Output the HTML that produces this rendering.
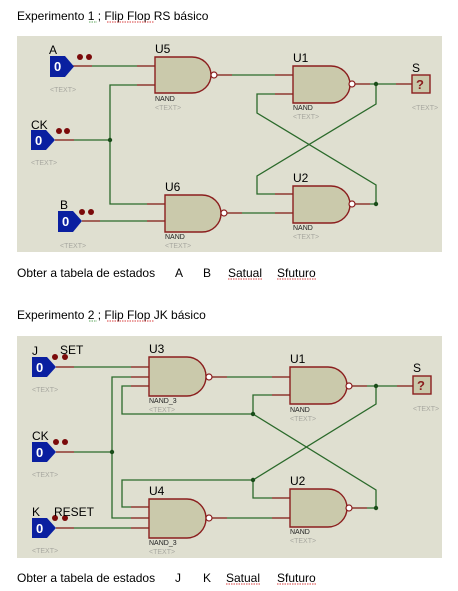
<!DOCTYPE html>
<html><head><meta charset="utf-8"><style>
html,body{margin:0;padding:0;background:#fff;}
svg{display:block;}
text{font-family:"Liberation Sans",Arial,sans-serif;}
.lbl{font-size:12px;fill:#000;}
.sm{font-size:7px;fill:#222;}
.tx{font-size:7px;fill:#a8a8a0;}
.hd{font-size:12px;fill:#000;}
.w{stroke:#2b6a2b;stroke-width:1.3;fill:none;}
.r{stroke:#9a2a2a;stroke-width:1.3;fill:none;}
.g{fill:#cac9ab;stroke:#8b1e1e;stroke-width:1.4;}
.b{fill:#fff;stroke:#8b1e1e;stroke-width:1.2;}
.p{fill:#0a1fa0;}
.z{font-size:13px;font-weight:bold;fill:#fff;}
.d{fill:#7a0a0a;}
.j{fill:#1a4d1a;}
.sp{stroke:#c00;stroke-width:0.8;fill:none;stroke-dasharray:1.5 1;}
.spg{stroke:#2a8a2a;stroke-width:0.8;fill:none;stroke-dasharray:1.5 1;}
</style></head><body>
<svg width="458" height="591" viewBox="0 0 458 591" xmlns="http://www.w3.org/2000/svg">
<!-- headings -->
<text class="hd" x="17" y="20">Experimento 1 ;  Flip Flop RS básico</text>
<line class="spg" x1="89" y1="22" x2="97" y2="22"/>
<line class="sp" x1="107" y1="22" x2="154" y2="22"/>
<text class="hd" x="17" y="277" xml:space="preserve">Obter a tabela de estados</text>
<text class="hd" x="175" y="277">A</text><text class="hd" x="203" y="277">B</text>
<text class="hd" x="228" y="277">Satual</text><text class="hd" x="277" y="277">Sfuturo</text>
<line class="sp" x1="228" y1="279" x2="262" y2="279"/><line class="sp" x1="277" y1="279" x2="316" y2="279"/>
<text class="hd" x="17" y="319">Experimento 2 ;  Flip Flop JK básico</text>
<line class="spg" x1="89" y1="321" x2="97" y2="321"/>
<line class="sp" x1="107" y1="321" x2="154" y2="321"/>
<text class="hd" x="17" y="582">Obter a tabela de estados</text>
<text class="hd" x="175" y="582">J</text><text class="hd" x="203" y="582">K</text>
<text class="hd" x="226" y="582">Satual</text><text class="hd" x="277" y="582">Sfuturo</text>
<line class="sp" x1="226" y1="584" x2="260" y2="584"/><line class="sp" x1="277" y1="584" x2="316" y2="584"/>

<!-- panel 1 -->
<rect x="17" y="36" width="425" height="216" fill="#dfdfd0"/>
<!-- wires -->
<path class="w" d="M73,66 H155"/>
<path class="w" d="M155,85 H110 V204 H165"/>
<path class="w" d="M55,140 H110"/>
<path class="w" d="M82,221 H165"/>
<path class="w" d="M217,75 H293"/>
<path class="w" d="M227,213 H293"/>
<path class="w" d="M355,84 H412"/>
<path class="w" d="M293,94 H257 V113 L376,185 V204"/>
<path class="w" d="M355,204 H376"/>
<path class="w" d="M376,84 V104 L257,176 V194 H293"/>
<!-- red stubs -->
<path class="r" d="M73,66 H92 M137,66 H155 M137,85 H155 M55,140 H74 M82,221 H100 M147,204 H165 M147,221 H165 M217,75 H232 M227,213 H242 M275,75 H293 M275,94 H293 M275,194 H293 M275,213 H293 M355,84 H370 M355,204 H370 M396,84 H412"/>
<circle class="j" cx="110" cy="140" r="2.2"/><circle class="j" cx="376" cy="84" r="2.2"/><circle class="j" cx="376" cy="204" r="2.2"/>
<!-- gates -->
<path class="g" d="M155,57 H192 A19,18 0 0 1 192,93 H155 Z"/><circle class="b" cx="214" cy="75" r="3"/>
<text class="lbl" x="155" y="53">U5</text><text class="sm" x="155" y="101">NAND</text><text class="tx" x="155" y="110">&lt;TEXT&gt;</text>
<path class="g" d="M165,195 H202 A19,18.5 0 0 1 202,232 H165 Z"/><circle class="b" cx="224" cy="213" r="3"/>
<text class="lbl" x="165" y="191">U6</text><text class="sm" x="165" y="239">NAND</text><text class="tx" x="165" y="248">&lt;TEXT&gt;</text>
<path class="g" d="M293,66 H331 A19,18.5 0 0 1 331,103 H293 Z"/><circle class="b" cx="352" cy="84" r="3"/>
<text class="lbl" x="293" y="62">U1</text><text class="sm" x="293" y="110">NAND</text><text class="tx" x="293" y="119">&lt;TEXT&gt;</text>
<path class="g" d="M293,186 H331 A19,18.5 0 0 1 331,223 H293 Z"/><circle class="b" cx="352" cy="204" r="3"/>
<text class="lbl" x="293" y="182">U2</text><text class="sm" x="293" y="230">NAND</text><text class="tx" x="293" y="239">&lt;TEXT&gt;</text>
<!-- inputs -->
<polygon class="p" points="50,56 65,56 74,66.5 65,77 50,77"/><text class="z" x="54" y="71">0</text>
<text class="lbl" x="49" y="54">A</text><circle class="d" cx="80" cy="57" r="3"/><circle class="d" cx="89" cy="57" r="3"/><text class="tx" x="50" y="92">&lt;TEXT&gt;</text>
<polygon class="p" points="31,130 46,130 55,140 46,150 31,150"/><text class="z" x="35" y="145">0</text>
<text class="lbl" x="31" y="129">CK</text><circle class="d" cx="59" cy="131" r="3"/><circle class="d" cx="67" cy="131" r="3"/><text class="tx" x="31" y="165">&lt;TEXT&gt;</text>
<polygon class="p" points="58,211 73,211 82,221 73,232 58,232"/><text class="z" x="62" y="226">0</text>
<text class="lbl" x="60" y="209">B</text><circle class="d" cx="82" cy="212" r="3"/><circle class="d" cx="91" cy="212" r="3"/><text class="tx" x="60" y="248">&lt;TEXT&gt;</text>
<!-- output -->
<rect x="412" y="75" width="18" height="18" fill="#cac9ab" stroke="#8b1e1e" stroke-width="1.4"/>
<text x="416" y="89" font-size="13" font-weight="bold" fill="#8b1e1e">?</text>
<text class="lbl" x="412" y="72">S</text><text class="tx" x="412" y="110">&lt;TEXT&gt;</text>

<!-- panel 2 -->
<rect x="17" y="336" width="425" height="222" fill="#dfdfd0"/>
<path class="w" d="M56,367 H149"/>
<path class="w" d="M149,377 H112 V518 H149"/>
<path class="w" d="M56,452 H112"/>
<path class="w" d="M56,528 H149"/>
<path class="w" d="M149,386 H122 V414 H253 V395 H290"/>
<path class="w" d="M149,507 H122 V480 H253 V498 H290"/>
<path class="w" d="M212,377 H290"/>
<path class="w" d="M212,518 H290"/>
<path class="w" d="M352,386 H413"/>
<path class="w" d="M253,414 L376,490 V508 H352"/>
<path class="w" d="M376,386 V404 L253,480"/>
<path class="r" d="M56,367 H74 M131,367 H149 M131,377 H149 M131,386 H149 M56,452 H74 M131,507 H149 M131,518 H149 M131,528 H149 M56,528 H74 M212,377 H227 M212,518 H227 M272,377 H290 M272,395 H290 M272,498 H290 M272,518 H290 M352,386 H367 M352,508 H367 M397,386 H413"/>
<circle class="j" cx="112" cy="452" r="2.2"/><circle class="j" cx="253" cy="414" r="2.2"/><circle class="j" cx="253" cy="480" r="2.2"/>
<circle class="j" cx="376" cy="386" r="2.2"/><circle class="j" cx="376" cy="508" r="2.2"/>
<path class="g" d="M149,357 H187 A19,19.5 0 0 1 187,396 H149 Z"/><circle class="b" cx="209" cy="377" r="3"/>
<text class="lbl" x="149" y="353">U3</text><text class="sm" x="149" y="403">NAND_3</text><text class="tx" x="149" y="412">&lt;TEXT&gt;</text>
<path class="g" d="M149,499 H187 A19,19.5 0 0 1 187,538 H149 Z"/><circle class="b" cx="209" cy="518" r="3"/>
<text class="lbl" x="149" y="495">U4</text><text class="sm" x="149" y="545">NAND_3</text><text class="tx" x="149" y="554">&lt;TEXT&gt;</text>
<path class="g" d="M290,367 H328 A19,18.5 0 0 1 328,404 H290 Z"/><circle class="b" cx="349" cy="386" r="3"/>
<text class="lbl" x="290" y="363">U1</text><text class="sm" x="290" y="412">NAND</text><text class="tx" x="290" y="421">&lt;TEXT&gt;</text>
<path class="g" d="M290,489 H328 A19,19 0 0 1 328,527 H290 Z"/><circle class="b" cx="349" cy="508" r="3"/>
<text class="lbl" x="290" y="485">U2</text><text class="sm" x="290" y="534">NAND</text><text class="tx" x="290" y="543">&lt;TEXT&gt;</text>
<polygon class="p" points="32,357 47,357 56,367 47,377 32,377"/><text class="z" x="36" y="372">0</text>
<text class="lbl" x="32" y="355">J</text><circle class="d" cx="55" cy="357" r="3"/><circle class="d" cx="65" cy="357" r="3"/><text class="lbl" x="60" y="354">SET</text><text class="tx" x="32" y="392">&lt;TEXT&gt;</text>
<polygon class="p" points="32,442 47,442 56,452 47,462 32,462"/><text class="z" x="36" y="457">0</text>
<text class="lbl" x="32" y="440">CK</text><circle class="d" cx="56" cy="442" r="3"/><circle class="d" cx="65" cy="442" r="3"/><text class="tx" x="32" y="477">&lt;TEXT&gt;</text>
<polygon class="p" points="32,518 47,518 56,528 47,538 32,538"/><text class="z" x="36" y="533">0</text>
<text class="lbl" x="32" y="516">K</text><circle class="d" cx="55" cy="518" r="3"/><circle class="d" cx="65" cy="518" r="3"/><text class="lbl" x="54" y="516">RESET</text><text class="tx" x="32" y="553">&lt;TEXT&gt;</text>
<rect x="413" y="376" width="18" height="18" fill="#cac9ab" stroke="#8b1e1e" stroke-width="1.4"/>
<text x="417" y="390" font-size="13" font-weight="bold" fill="#8b1e1e">?</text>
<text class="lbl" x="413" y="372">S</text><text class="tx" x="413" y="411">&lt;TEXT&gt;</text>
</svg>
</body></html>
